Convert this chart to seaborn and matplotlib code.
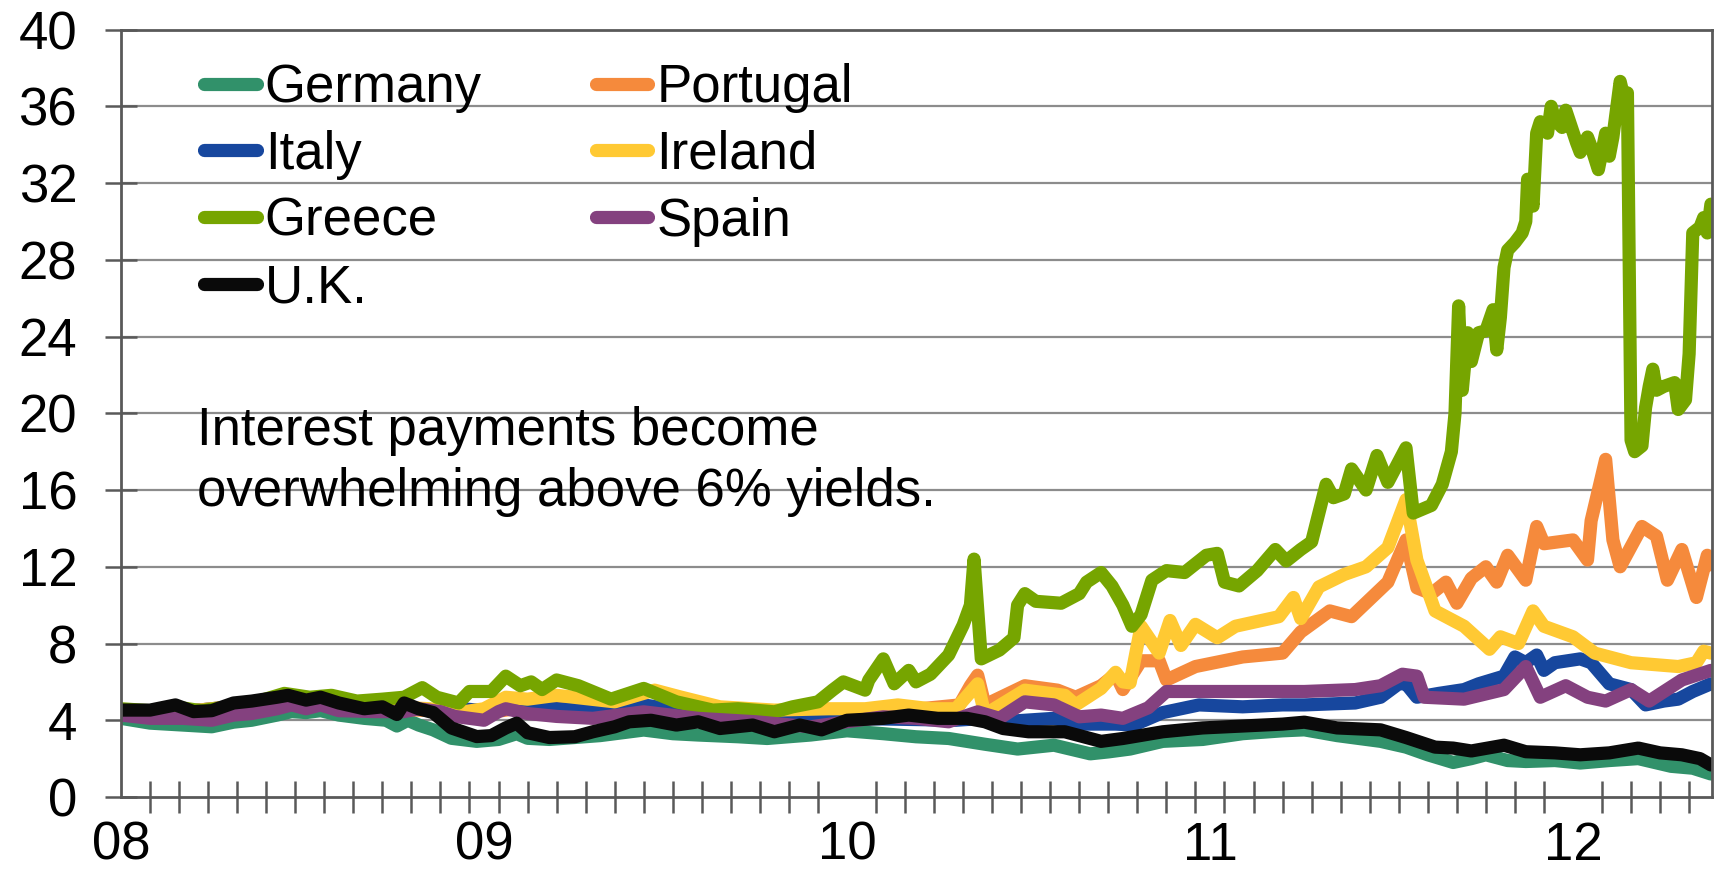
import numpy as np
import pandas as pd
import matplotlib.pyplot as plt
from matplotlib.lines import Line2D
import seaborn as sns

# 10-year government bond yields (%), x = years after Jan 2008
germany = [(0.00, 4.1), (0.08, 3.85), (0.17, 3.75), (0.25, 3.66), (0.31, 3.9), (0.36, 4.0),
           (0.43, 4.27), (0.47, 4.45), (0.51, 4.4), (0.55, 4.5), (0.60, 4.27), (0.67, 4.1),
           (0.73, 4.0), (0.76, 3.7), (0.79, 4.0), (0.82, 3.75), (0.86, 3.5), (0.91, 3.06),
           (0.98, 2.9), (1.04, 3.0), (1.09, 3.3), (1.12, 3.06), (1.18, 3.0), (1.25, 3.1),
           (1.32, 3.2), (1.44, 3.49), (1.52, 3.3), (1.59, 3.23), (1.70, 3.14), (1.78, 3.05),
           (1.90, 3.23), (2.00, 3.45), (2.10, 3.3), (2.19, 3.14), (2.28, 3.05), (2.38, 2.75),
           (2.47, 2.5), (2.57, 2.7), (2.67, 2.25), (2.72, 2.35), (2.78, 2.5), (2.87, 2.9),
           (2.98, 3.0), (3.09, 3.3), (3.20, 3.45), (3.26, 3.5), (3.35, 3.2), (3.47, 2.9),
           (3.54, 2.6), (3.60, 2.2), (3.67, 1.8), (3.72, 2.0), (3.76, 2.2), (3.82, 1.9),
           (3.87, 1.85), (3.95, 1.9), (4.02, 1.77), (4.10, 1.9), (4.18, 2.0), (4.27, 1.6),
           (4.33, 1.5), (4.38, 1.2)]

uk = [(0.00, 4.53), (0.08, 4.53), (0.15, 4.8), (0.20, 4.45), (0.25, 4.5), (0.31, 4.9),
      (0.36, 5.0), (0.43, 5.2), (0.46, 5.3), (0.51, 5.05), (0.55, 5.2), (0.60, 4.9),
      (0.67, 4.6), (0.72, 4.7), (0.76, 4.3), (0.78, 4.9), (0.82, 4.6), (0.86, 4.4),
      (0.91, 3.6), (0.98, 3.15), (1.02, 3.2), (1.06, 3.6), (1.09, 3.85), (1.12, 3.35),
      (1.18, 3.1), (1.25, 3.14), (1.30, 3.4), (1.36, 3.66), (1.40, 3.92), (1.46, 4.0),
      (1.53, 3.75), (1.59, 3.92), (1.65, 3.57), (1.74, 3.75), (1.80, 3.4), (1.87, 3.75),
      (1.93, 3.5), (2.00, 4.0), (2.10, 4.1), (2.17, 4.27), (2.25, 4.1), (2.33, 4.1),
      (2.38, 3.92), (2.43, 3.57), (2.50, 3.4), (2.60, 3.4), (2.64, 3.2), (2.70, 2.9),
      (2.76, 3.05), (2.87, 3.4), (2.98, 3.6), (3.09, 3.7), (3.20, 3.8), (3.26, 3.9),
      (3.35, 3.6), (3.47, 3.5), (3.54, 3.1), (3.62, 2.6), (3.67, 2.55), (3.72, 2.4),
      (3.81, 2.7), (3.87, 2.36), (3.95, 2.3), (4.02, 2.2), (4.10, 2.3), (4.18, 2.55),
      (4.24, 2.3), (4.30, 2.2), (4.35, 2.0), (4.38, 1.67)]

italy = [(0.00, 4.5), (0.10, 4.4), (0.20, 4.5), (0.30, 4.7), (0.40, 4.9), (0.46, 5.2),
         (0.55, 5.0), (0.65, 4.8), (0.75, 4.7), (0.82, 4.6), (0.88, 4.5), (0.94, 4.6),
         (1.00, 4.5), (1.06, 5.05), (1.12, 4.6), (1.20, 4.6), (1.30, 4.53), (1.44, 4.8),
         (1.59, 4.36), (1.70, 4.27), (1.85, 4.15), (2.00, 4.1), (2.15, 4.05), (2.30, 4.0),
         (2.38, 4.1), (2.45, 3.95), (2.57, 4.1), (2.64, 3.8), (2.74, 3.8), (2.79, 3.75),
         (2.87, 4.4), (2.97, 4.8), (3.09, 4.7), (3.20, 4.8), (3.26, 4.8), (3.40, 4.9),
         (3.47, 5.2), (3.52, 5.9), (3.54, 5.9), (3.57, 5.2), (3.63, 5.4), (3.70, 5.6),
         (3.74, 5.9), (3.81, 6.3), (3.84, 7.3), (3.87, 7.0), (3.90, 7.4), (3.92, 6.6),
         (3.95, 7.0), (4.02, 7.2), (4.05, 7.0), (4.10, 5.9), (4.16, 5.6), (4.20, 4.8),
         (4.25, 5.0), (4.29, 5.1), (4.33, 5.5), (4.38, 5.9)]

spain = [(0.00, 4.27), (0.08, 4.1), (0.17, 4.1), (0.25, 4.0), (0.31, 4.27), (0.36, 4.35),
         (0.43, 4.6), (0.47, 4.8), (0.51, 4.6), (0.55, 4.8), (0.60, 4.5), (0.70, 4.45),
         (0.78, 4.45), (0.82, 4.6), (0.88, 4.45), (0.92, 4.2), (0.96, 4.1), (1.00, 4.0),
         (1.04, 4.45), (1.06, 4.6), (1.12, 4.35), (1.20, 4.2), (1.30, 4.1), (1.44, 4.44),
         (1.59, 4.1), (1.75, 3.92), (1.90, 3.66), (2.00, 3.92), (2.10, 4.18), (2.19, 4.1),
         (2.28, 3.92), (2.36, 4.44), (2.42, 4.1), (2.49, 4.96), (2.57, 4.8), (2.64, 4.18),
         (2.70, 4.27), (2.76, 4.1), (2.83, 4.65), (2.88, 5.5), (2.95, 5.5), (3.09, 5.5),
         (3.26, 5.5), (3.40, 5.6), (3.47, 5.8), (3.53, 6.4), (3.57, 6.3), (3.59, 5.2),
         (3.70, 5.1), (3.81, 5.6), (3.87, 6.8), (3.91, 5.2), (3.98, 5.8), (4.04, 5.2),
         (4.09, 5.0), (4.16, 5.6), (4.21, 5.0), (4.30, 6.1), (4.38, 6.6)]

portugal = [(0.00, 4.5), (0.10, 4.4), (0.20, 4.5), (0.30, 4.7), (0.40, 4.9), (0.46, 5.1),
            (0.55, 4.9), (0.65, 4.7), (0.75, 4.6), (0.85, 4.5), (0.95, 4.3), (1.05, 4.5),
            (1.12, 4.7), (1.20, 4.88), (1.35, 4.6), (1.50, 4.4), (1.65, 4.2), (1.80, 4.1),
            (1.95, 4.2), (2.05, 4.4), (2.15, 4.5), (2.31, 4.8), (2.34, 5.8), (2.36, 6.35),
            (2.38, 4.8), (2.49, 5.8), (2.58, 5.57), (2.63, 5.2), (2.70, 5.8), (2.74, 6.4),
            (2.76, 5.6), (2.81, 7.1), (2.86, 7.1), (2.88, 6.1), (2.96, 6.8), (3.09, 7.3),
            (3.20, 7.5), (3.25, 8.6), (3.33, 9.7), (3.39, 9.4), (3.49, 11.2), (3.54, 13.4),
            (3.57, 10.9), (3.61, 10.6), (3.65, 11.2), (3.68, 10.1), (3.72, 11.4), (3.76, 12.0),
            (3.79, 11.2), (3.82, 12.6), (3.87, 11.3), (3.90, 14.1), (3.92, 13.2), (4.00, 13.4),
            (4.04, 12.35), (4.05, 14.4), (4.09, 17.6), (4.11, 13.4), (4.13, 12.0), (4.19, 14.1),
            (4.23, 13.6), (4.26, 11.3), (4.30, 12.9), (4.34, 10.4), (4.37, 12.6), (4.38, 12.1)]

ireland = [(0.00, 4.5), (0.10, 4.4), (0.20, 4.5), (0.30, 4.7), (0.40, 5.0), (0.46, 5.2),
           (0.55, 5.0), (0.65, 4.8), (0.75, 4.7), (0.85, 4.6), (0.93, 4.4), (1.00, 4.6),
           (1.06, 5.2), (1.12, 5.1), (1.20, 5.3), (1.36, 4.96), (1.47, 5.57), (1.54, 5.22),
           (1.65, 4.7), (1.80, 4.53), (1.95, 4.6), (2.05, 4.6), (2.14, 4.8), (2.23, 4.6),
           (2.30, 4.6), (2.36, 5.9), (2.38, 4.3), (2.49, 5.57), (2.60, 5.3), (2.63, 4.8),
           (2.70, 5.66), (2.74, 6.5), (2.76, 6.0), (2.78, 5.95), (2.81, 8.9), (2.86, 7.5),
           (2.89, 9.2), (2.92, 7.9), (2.96, 9.0), (3.02, 8.3), (3.07, 8.9), (3.19, 9.4),
           (3.23, 10.4), (3.25, 9.3), (3.30, 10.95), (3.37, 11.6), (3.43, 12.0), (3.49, 13.0),
           (3.54, 15.5), (3.57, 12.35), (3.62, 9.7), (3.70, 8.9), (3.77, 7.7), (3.80, 8.35),
           (3.85, 8.0), (3.89, 9.7), (3.92, 8.9), (4.00, 8.35), (4.06, 7.5), (4.16, 7.0),
           (4.29, 6.8), (4.34, 7.0), (4.36, 7.6), (4.38, 7.5)]

greece = [(0.00, 4.6), (0.08, 4.5), (0.15, 4.7), (0.22, 4.5), (0.30, 4.7), (0.38, 5.0),
          (0.45, 5.4), (0.52, 5.2), (0.58, 5.3), (0.65, 5.0), (0.72, 5.1), (0.78, 5.2),
          (0.83, 5.7), (0.87, 5.2), (0.93, 4.9), (0.96, 5.5), (1.02, 5.5), (1.06, 6.3),
          (1.10, 5.8), (1.13, 6.0), (1.16, 5.6), (1.20, 6.1), (1.26, 5.8), (1.35, 5.1),
          (1.44, 5.66), (1.53, 4.96), (1.63, 4.53), (1.70, 4.6), (1.80, 4.44), (1.85, 4.7),
          (1.92, 4.96), (1.96, 5.57), (1.99, 6.0), (2.05, 5.57), (2.06, 6.09), (2.10, 7.2),
          (2.13, 5.9), (2.17, 6.6), (2.19, 6.0), (2.23, 6.4), (2.28, 7.4), (2.32, 8.96),
          (2.34, 10.0), (2.35, 12.4), (2.37, 7.2), (2.42, 7.66), (2.46, 8.3), (2.47, 10.0),
          (2.49, 10.6), (2.52, 10.2), (2.59, 10.1), (2.64, 10.6), (2.66, 11.2), (2.70, 11.7),
          (2.73, 11.0), (2.76, 10.0), (2.785, 8.9), (2.81, 9.5), (2.84, 11.3), (2.88, 11.8),
          (2.93, 11.7), (2.99, 12.6), (3.02, 12.7), (3.04, 11.2), (3.08, 11.0), (3.13, 11.8),
          (3.18, 12.9), (3.21, 12.3), (3.25, 12.9), (3.28, 13.3), (3.30, 14.8), (3.32, 16.3),
          (3.34, 15.6), (3.37, 15.8), (3.39, 17.1), (3.43, 16.0), (3.46, 17.8), (3.49, 16.4),
          (3.54, 18.2), (3.56, 14.8), (3.61, 15.2), (3.64, 16.3), (3.665, 18.0), (3.675, 20.0),
          (3.685, 25.6), (3.695, 21.2), (3.71, 24.2), (3.72, 22.7), (3.74, 24.2), (3.76, 24.3),
          (3.78, 25.4), (3.79, 23.3), (3.80, 25.0), (3.81, 27.6), (3.82, 28.5), (3.84, 28.9),
          (3.86, 29.4), (3.87, 30.0), (3.875, 32.2), (3.89, 30.8), (3.90, 34.6), (3.91, 35.2),
          (3.93, 34.6), (3.94, 36.0), (3.95, 35.3), (3.97, 34.9), (3.98, 35.8), (4.01, 34.1),
          (4.02, 33.6), (4.04, 34.4), (4.05, 33.9), (4.07, 32.7), (4.09, 34.6), (4.10, 33.4),
          (4.11, 34.4), (4.13, 37.3), (4.14, 36.5), (4.15, 36.7), (4.16, 18.6), (4.17, 18.0),
          (4.19, 18.3), (4.20, 20.3), (4.21, 21.4), (4.22, 22.3), (4.23, 21.2), (4.25, 21.4),
          (4.28, 21.6), (4.29, 20.2), (4.31, 20.7), (4.32, 23.1), (4.33, 29.4), (4.35, 29.7),
          (4.36, 30.2), (4.37, 29.4), (4.38, 30.9)]

# draw order (later series on top), as in the source workbook
series = {
    "Germany": germany, "Portugal": portugal, "Italy": italy, "Ireland": ireland,
    "Greece": greece, "Spain": spain, "U.K.": uk,
}
colors = {
    "Germany": "#31916A", "Portugal": "#F58A3C", "Italy": "#17479E", "Ireland": "#FFC933",
    "Greece": "#76A500", "Spain": "#84417F", "U.K.": "#0A0A0A",
}
legend_order = ["Germany", "Italy", "Greece", "U.K.", "Portugal", "Ireland", "Spain"]
year_labels = ["08", "09", "10", "11", "12"]
note = "Interest payments become\noverwhelming above 6% yields."

rows = []
for name, pts in series.items():
    for t, v in pts:
        rows.append({"country": name, "year": 2008 + t, "yield": v})
df = pd.DataFrame(rows)

sns.set_theme(style="white")
plt.rcParams["font.family"] = ["Liberation Sans", "DejaVu Sans"]
plt.rcParams["text.color"] = "black"
plt.rcParams["xtick.labelcolor"] = "black"
plt.rcParams["ytick.labelcolor"] = "black"
FS = 38
LW = 9.5
AX_GREY = "#595959"

fig = plt.figure(figsize=(17.17, 8.84), dpi=100)
ax = fig.add_axes([121 / 1717, 1 - 797 / 884, (1712 - 121) / 1717, (797 - 29.6) / 884])

n_before = len(ax.lines)
sns.lineplot(data=df, x="year", y="yield", hue="country", hue_order=list(series),
             palette=colors, estimator=None, legend=False, ax=ax)
for line in ax.lines[n_before:]:
    line.set_linewidth(LW)
    line.set_solid_joinstyle("round")
    line.set_solid_capstyle("round")

for y in range(4, 40, 4):
    ax.axhline(y, color="#8C8C8C", lw=1.6, zorder=0.5)

ax.set_xlim(2008, 2012.383)
ax.set_ylim(0, 40)
ax.set_xlabel("")
ax.set_ylabel("")

ax.set_yticks(np.arange(0, 41, 4))
ax.set_yticklabels([str(v) for v in range(0, 41, 4)], fontsize=FS)
ax.set_xticks(np.arange(2008, 2013, 1))
ax.set_xticklabels(year_labels, fontsize=FS)
ax.set_xticks(np.arange(2008, 2012.39, 0.08), minor=True)
ax.tick_params(axis="x", which="major", length=0, pad=17)
ax.tick_params(axis="x", which="minor", direction="inout", length=23, width=1.8,
               color=AX_GREY, bottom=True)
ax.tick_params(axis="y", which="major", direction="inout", length=23, width=1.8,
               color=AX_GREY, pad=20, left=True)

for side in ["left", "bottom", "right", "top"]:
    ax.spines[side].set_visible(True)
    ax.spines[side].set_color(AX_GREY)
    ax.spines[side].set_linewidth(2.0)

ax.text(2008.21, 20.4, note, fontsize=FS, va="top", ha="left", color="black",
        linespacing=1.3)

handles = [Line2D([], [], color=colors[n], lw=LW, solid_capstyle="round") for n in legend_order]
leg = ax.legend(handles, legend_order, loc="upper left", ncol=2, frameon=False, fontsize=FS,
                bbox_to_anchor=(204 / 1717, 1 - 63 / 884), bbox_transform=fig.transFigure,
                borderpad=0, borderaxespad=0, handlelength=1.0, handletextpad=0.15,
                labelspacing=0.32, columnspacing=2.16)
for txt in leg.get_texts():
    txt.set_color("black")

fig.savefig("out.png", dpi=100)
